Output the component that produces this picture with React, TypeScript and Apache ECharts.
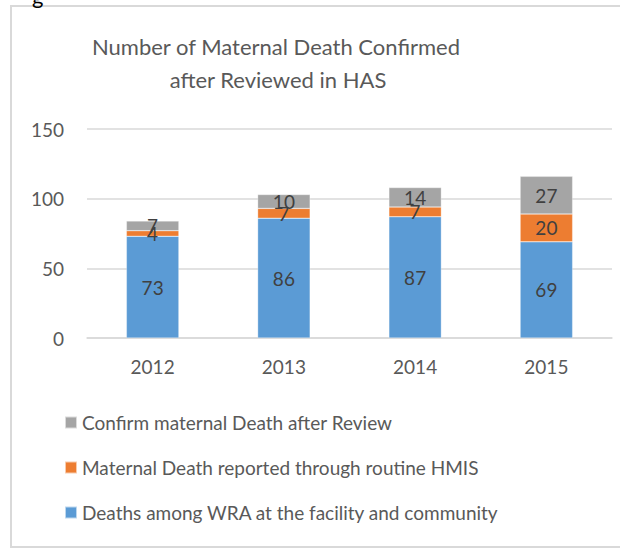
import React, { useEffect, useRef } from "react";
import * as echarts from "echarts";

const categories = ["2012", "2013", "2014", "2015"];
const deathsWRA = [73, 86, 87, 69];
const reportedHMIS = [4, 7, 7, 20];
const confirmedReview = [7, 10, 14, 27];
const seriesNames = [
  "Deaths among WRA at the facility and community",
  "Maternal Death reported through routine HMIS",
  "Confirm maternal Death after Review",
];
const titleLines = ["Number of Maternal Death Confirmed", "after Reviewed in HAS"];

const FONT = "Lato, 'Open Sans', sans-serif";
const TXT = "#595959";

export default function App() {
  const ref = useRef<HTMLDivElement>(null);
  useEffect(() => {
    if (!ref.current) return;
    const chart = echarts.init(ref.current, undefined, { renderer: "svg" });
    const label = {
      show: true,
      position: "inside",
      color: "#404040",
      fontSize: 19,
      fontFamily: FONT,
    };
    const mk = (name: string, data: number[], color: string) => ({
      name,
      type: "bar",
      stack: "total",
      data,
      barCategoryGap: "60%",
      itemStyle: { color, borderColor: "rgba(255,255,255,0.6)", borderWidth: 0.5 },
      label,
    });
    chart.setOption({
      animation: false,
      backgroundColor: "#ffffff",
      textStyle: { fontFamily: FONT },
      graphic: [
        {
          type: "rect",
          shape: { x: 11, y: 6, width: 640, height: 541 },
          style: { fill: "none", stroke: "#D9D9D9", lineWidth: 2 },
          silent: true,
        },
        {
          type: "text",
          x: 32,
          y: -16,
          style: { text: "g", fontSize: 22, fontFamily: FONT, fill: "#000" },
        },
        {
          type: "text",
          x: 276,
          y: 46,
          style: {
            text: titleLines[0],
            fontSize: 22,
            fontFamily: FONT,
            fill: TXT,
            textAlign: "center",
            textVerticalAlign: "middle",
          },
        },
        {
          type: "text",
          x: 278,
          y: 79,
          style: {
            text: titleLines[1],
            fontSize: 22,
            fontFamily: FONT,
            fill: TXT,
            textAlign: "center",
            textVerticalAlign: "middle",
          },
        },
      ],
      legend: {
        orient: "vertical",
        left: 64,
        top: 413,
        padding: 0,
        itemWidth: 12,
        itemHeight: 12,
        itemGap: 26,
        icon: "rect",
        data: [seriesNames[2], seriesNames[1], seriesNames[0]],
        textStyle: { fontSize: 19, color: TXT, fontFamily: FONT },
      },
      grid: { left: 87, right: 8, top: 129, bottom: 220, containLabel: false },
      xAxis: {
        type: "category",
        data: categories,
        axisTick: { show: false },
        axisLine: { lineStyle: { color: "#D9D9D9", width: 1.5 } },
        axisLabel: { fontSize: 19, color: TXT, margin: 19, fontFamily: FONT },
      },
      yAxis: {
        type: "value",
        min: 0,
        max: 150,
        interval: 50,
        axisLine: { show: false },
        axisTick: { show: false },
        splitLine: { lineStyle: { color: "#D9D9D9", width: 1.5 } },
        axisLabel: { fontSize: 19, color: TXT, margin: 23, fontFamily: FONT },
      },
      series: [
        mk(seriesNames[0], deathsWRA, "#5B9BD5"),
        mk(seriesNames[1], reportedHMIS, "#ED7D31"),
        mk(seriesNames[2], confirmedReview, "#A5A5A5"),
      ],
    });
    return () => chart.dispose();
  }, []);
  return (
    <div
      ref={ref}
      style={{ position: "absolute", left: 0, top: 0, width: 620, height: 558 }}
    />
  );
}
